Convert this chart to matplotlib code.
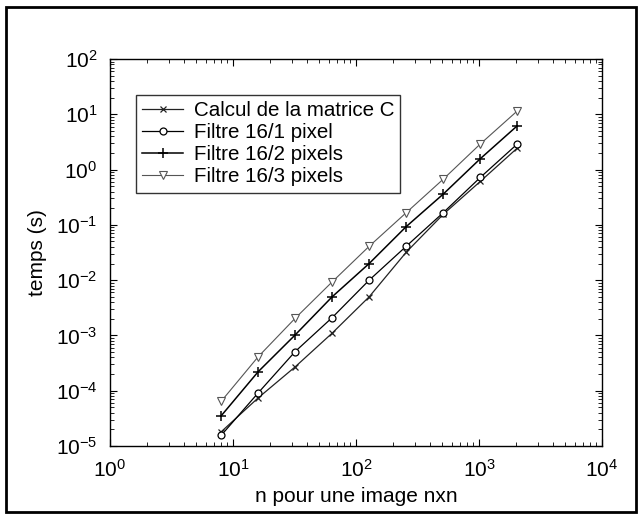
import matplotlib
matplotlib.use("Agg")
import matplotlib.pyplot as plt
from matplotlib.patches import Rectangle

plt.rcParams['font.family'] = ['Liberation Sans', 'DejaVu Sans']

n = [8, 16, 32, 64, 128, 256, 512, 1024, 2048]
calcul_C = [1.8e-5, 7.4e-5, 2.7e-4, 1.1e-3, 5.0e-3, 0.032, 0.155, 0.61, 2.45]
filtre_1 = [1.55e-5, 9.1e-5, 5.1e-4, 2.1e-3, 0.010, 0.041, 0.166, 0.72, 2.9]
filtre_2 = [3.5e-5, 2.2e-4, 1.02e-3, 5.0e-3, 0.020, 0.093, 0.36, 1.57, 6.2]
filtre_3 = [6.4e-5, 4.1e-4, 2.04e-3, 9.3e-3, 0.041, 0.166, 0.67, 2.9, 11.5]

labels = ["Calcul de la matrice C", "Filtre 16/1 pixel",
          "Filtre 16/2 pixels", "Filtre 16/3 pixels"]

fig = plt.figure(figsize=(6.42, 5.18), dpi=100)
ax = fig.add_axes([110/642, 1-446/518, (602-110)/642, (446-59)/518])

ax.plot(n, calcul_C, color='#222222', lw=0.9, marker='x', ms=5, mew=0.9, label=labels[0])
ax.plot(n, filtre_1, color='black', lw=0.9, marker='o', ms=5, mfc='white', mew=0.9, label=labels[1])
ax.plot(n, filtre_2, color='black', lw=1.1, marker='+', ms=7, mew=1.1, label=labels[2])
ax.plot(n, filtre_3, color='#555555', lw=0.8, marker='v', ms=5.5, mfc='white', mew=0.8, label=labels[3])

ax.set_xscale('log')
ax.set_yscale('log')
ax.set_xlim(1, 1e4)
ax.set_ylim(1e-5, 1e2)
ax.set_xticks([1, 10, 100, 1000, 10000])
ax.set_yticks([1e-5, 1e-4, 1e-3, 1e-2, 1e-1, 1, 10, 100])
ax.tick_params(which='both', direction='in', top=True, right=True, labelsize=15)
ax.tick_params(which='major', length=5)
ax.tick_params(which='minor', length=3)
ax.tick_params(axis='x', which='major', pad=9)
ax.tick_params(axis='y', which='major', pad=9)
for s in ax.spines.values():
    s.set_linewidth(1.0)

ax.set_xlabel("n pour une image nxn", fontsize=15, labelpad=5)
ax.set_ylabel("temps (s)", fontsize=15, labelpad=6)

leg = ax.legend(loc='upper left', bbox_to_anchor=((136-110)/492, (446-95)/387),
                fontsize=14.8, frameon=True, fancybox=False, edgecolor='black',
                borderpad=0.3, labelspacing=0.15, handlelength=2.0, handletextpad=0.5,
                borderaxespad=0)
leg.get_frame().set_linewidth(1.0)

fig.patches.append(Rectangle((6/642, 1-512/518), (636-6)/642, (512-7)/518,
                             transform=fig.transFigure, fill=False,
                             edgecolor='black', lw=2))

fig.savefig("out.png", dpi=100)
